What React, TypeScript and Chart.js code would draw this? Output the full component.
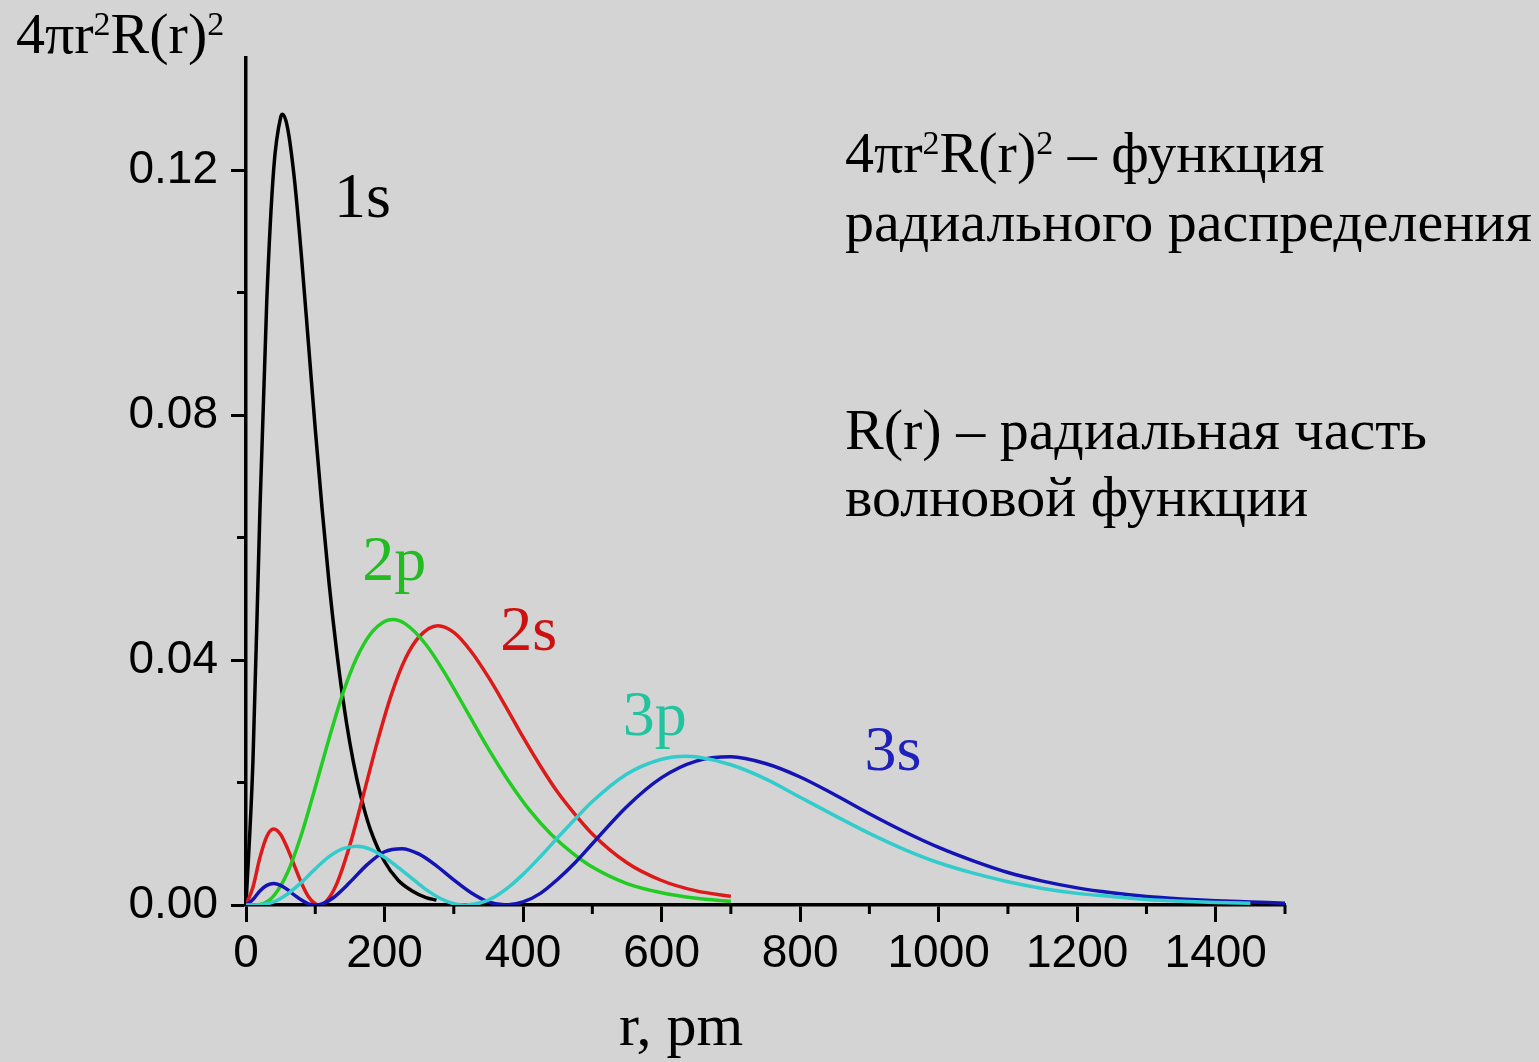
import React, { useEffect, useRef } from "react";
import { Chart, registerables } from "chart.js";

Chart.register(...registerables);

// ---- data (r in pm, values of 4πr²R(r)²) ----
const r1s = [0, 10, 20, 30, 40, 50, 53, 60, 70, 80, 90, 100, 110, 120, 130, 140, 150, 160, 170, 180, 200, 220, 240, 260, 275];
const v1s = [0, 0.0234, 0.064, 0.0987, 0.1202, 0.1286, 0.1291, 0.1269, 0.1184, 0.106, 0.0919, 0.0777, 0.0645, 0.0525, 0.0423, 0.0336, 0.0264, 0.0206, 0.0159, 0.0122, 0.0071, 0.004, 0.0023, 0.0012, 0.0008];

const r2s = [0, 10, 20, 30, 40, 50, 60, 70, 80, 90, 100, 106, 115, 130, 150, 170, 190, 210, 230, 250, 277, 300, 325, 350, 375, 400, 425, 450, 475, 500, 550, 600, 650, 700];
const v2s = [0, 0.0029, 0.0077, 0.0112, 0.0124, 0.0115, 0.0092, 0.0064, 0.0036, 0.0014, 0.0002, 0, 0.0005, 0.0032, 0.0098, 0.0182, 0.0268, 0.0344, 0.0402, 0.0438, 0.0456, 0.0445, 0.0414, 0.0372, 0.0324, 0.0274, 0.0227, 0.0184, 0.0148, 0.0116, 0.0069, 0.004, 0.0023, 0.0014];

const r2p = [0, 20, 40, 60, 80, 100, 120, 140, 160, 180, 200, 212, 230, 260, 290, 320, 350, 380, 410, 440, 470, 500, 550, 600, 650, 700];
const v2p = [0, 0.0001, 0.0015, 0.0053, 0.0115, 0.0192, 0.0272, 0.0346, 0.0404, 0.0443, 0.0463, 0.0466, 0.0459, 0.0425, 0.0373, 0.0314, 0.0255, 0.0201, 0.0154, 0.0116, 0.0086, 0.0062, 0.0035, 0.002, 0.0011, 0.0006];

const r3s = [0, 10, 20, 30, 40, 50, 60, 70, 80, 90, 100, 110, 125, 150, 175, 200, 225, 250, 275, 300, 325, 350, 376, 400, 425, 450, 475, 500, 550, 600, 650, 700, 750, 800, 850, 900, 950, 1000, 1050, 1100, 1150, 1200, 1250, 1300, 1350, 1400, 1450, 1500];
const v3s = [0, 0.0009, 0.0023, 0.0032, 0.0035, 0.0032, 0.0025, 0.0016, 0.0008, 0.0002, 0, 0.0002, 0.0011, 0.0037, 0.0066, 0.0087, 0.0092, 0.0083, 0.0064, 0.0041, 0.002, 0.0005, 0, 0.0005, 0.0019, 0.0042, 0.0069, 0.01, 0.0161, 0.0208, 0.0235, 0.0242, 0.0231, 0.0209, 0.018, 0.0149, 0.012, 0.0094, 0.0072, 0.0053, 0.0039, 0.0028, 0.002, 0.0014, 0.001, 0.0007, 0.0005, 0.0003];

const r3p = [0, 20, 40, 60, 80, 100, 120, 140, 160, 180, 200, 220, 240, 260, 280, 300, 317, 340, 360, 380, 400, 425, 450, 475, 500, 550, 600, 635, 650, 700, 750, 800, 850, 900, 950, 1000, 1050, 1100, 1150, 1200, 1250, 1300, 1350, 1400, 1450];
const v3p = [0, 0.00005, 0.0005, 0.0018, 0.0037, 0.0059, 0.0079, 0.0092, 0.0096, 0.0091, 0.0078, 0.0061, 0.0043, 0.0025, 0.0011, 0.0002, 0, 0.0004, 0.0014, 0.003, 0.005, 0.0079, 0.011, 0.014, 0.0169, 0.0214, 0.0238, 0.0243, 0.0242, 0.0229, 0.0206, 0.0176, 0.0146, 0.0117, 0.0091, 0.0069, 0.0052, 0.0038, 0.0027, 0.0019, 0.0014, 0.0009, 0.0006, 0.0004, 0.0003];

const xMajorTicks = [0, 200, 400, 600, 800, 1000, 1200, 1400];
const xMinorTicks = [100, 300, 500, 700, 900, 1100, 1300, 1500];
const yMajorTicks = [0, 0.04, 0.08, 0.12];
const yMinorTicks = [0.02, 0.06, 0.1];

const xTitle = "r, pm";
const noteLine2 = "радиального распределения";
const noteLine3 = "R(r) – радиальная часть";
const noteLine4 = "волновой функции";

// ---- styling / layout ----
const W = 1539;
const H = 1062;
const BG = "#d4d4d4";
const SANS = '"Liberation Sans", Arial, sans-serif';
const SERIF = '"Liberation Serif", "Times New Roman", serif';

const curveLabels = [
  { text: "1s", r: 127, v: 0.1123, color: "#000000" },
  { text: "2p", r: 168, v: 0.0531, color: "#22bb22" },
  { text: "2s", r: 367, v: 0.0416, color: "#cc1111" },
  { text: "3p", r: 544, v: 0.0278, color: "#22c4a0" },
  { text: "3s", r: 893, v: 0.022, color: "#2020bb" },
];

function pts(xs: number[], ys: number[]) {
  return xs.map((x, i) => ({ x, y: ys[i] }));
}

function drawRich(ctx: CanvasRenderingContext2D, x: number, y: number, parts: [string, number, number][]) {
  let cx = x;
  for (const [t, size, rise] of parts) {
    ctx.font = `${size}px ${SERIF}`;
    ctx.fillText(t, cx, y - rise);
    cx += ctx.measureText(t).width;
  }
}

const decor = {
  id: "decor",
  beforeDraw(chart: any) {
    const ctx = chart.ctx;
    ctx.save();
    ctx.fillStyle = BG;
    ctx.fillRect(0, 0, chart.width, chart.height);
    ctx.restore();
  },
  afterDraw(chart: any) {
    const ctx: CanvasRenderingContext2D = chart.ctx;
    const xs = chart.scales.x;
    const ys = chart.scales.y;
    const area = chart.chartArea;
    ctx.save();
    ctx.strokeStyle = "#000";
    ctx.lineWidth = 3;
    ctx.beginPath();
    for (const v of xMinorTicks) {
      const px = xs.getPixelForValue(v);
      ctx.moveTo(px, area.bottom);
      ctx.lineTo(px, area.bottom + 9);
    }
    for (const v of yMinorTicks) {
      const py = ys.getPixelForValue(v);
      ctx.moveTo(area.left - 9, py);
      ctx.lineTo(area.left, py);
    }
    ctx.stroke();

    ctx.textBaseline = "alphabetic";
    ctx.textAlign = "left";
    // curve labels
    for (const l of curveLabels) {
      ctx.fillStyle = l.color;
      ctx.font = `64px ${SERIF}`;
      ctx.fillText(l.text, xs.getPixelForValue(l.r), ys.getPixelForValue(l.v));
    }
    // y title
    ctx.fillStyle = "#000";
    drawRich(ctx, 16, 53, [["4πr", 58, 0], ["2", 34, 18], ["R(r)", 58, 0], ["2", 34, 18]]);
    // x title
    ctx.font = `60px ${SERIF}`;
    ctx.textAlign = "center";
    ctx.fillText(xTitle, 681, 1045);
    ctx.textAlign = "left";
    // notes
    drawRich(ctx, 845, 172, [["4πr", 58, 0], ["2", 34, 18], ["R(r)", 58, 0], ["2", 34, 18], [" – функция", 58, 0]]);
    ctx.font = `58px ${SERIF}`;
    ctx.fillText(noteLine2, 845, 241);
    ctx.fillText(noteLine3, 845, 449);
    ctx.fillText(noteLine4, 845, 516);
    ctx.restore();
  },
};

export default function App() {
  const ref = useRef<HTMLCanvasElement | null>(null);
  useEffect(() => {
    document.body.style.margin = "0";
    document.body.style.background = BG;
    const canvas = ref.current!;
    const lineDs = (label: string, xs: number[], ys: number[], color: string) => ({
      label,
      data: pts(xs, ys),
      borderColor: color,
      borderWidth: 3.5,
      pointRadius: 0,
      fill: false,
      cubicInterpolationMode: "monotone" as const,
    });
    const chart = new Chart(canvas, {
      type: "line",
      data: {
        datasets: [
          lineDs("3p", r3p, v3p, "#33cccc"),
          lineDs("3s", r3s, v3s, "#1414b4"),
          lineDs("2p", r2p, v2p, "#22cc22"),
          lineDs("2s", r2s, v2s, "#dd1a1a"),
          lineDs("1s", r1s, v1s, "#000000"),
        ],
      },
      options: {
        responsive: false,
        animation: false,
        layout: { padding: { left: 0, right: 254, top: 58, bottom: 0 } },
        plugins: { legend: { display: false }, tooltip: { enabled: false } },
        scales: {
          x: {
            type: "linear",
            min: 0,
            max: 1500,
            afterBuildTicks: (s: any) => {
              s.ticks = xMajorTicks.map((v) => ({ value: v }));
            },
            afterFit: (s: any) => {
              s.height = H - 905;
            },
            ticks: {
              color: "#000",
              font: { family: SANS, size: 46 },
              padding: 5,
              maxRotation: 0,
              autoSkip: false,
              callback: (v: any) => String(v),
            },
            grid: { drawOnChartArea: false, drawTicks: true, tickLength: 17, tickColor: "#000", tickWidth: 3 },
            border: { color: "#000", width: 3.5 },
          },
          y: {
            type: "linear",
            min: 0,
            max: 0.1383,
            afterBuildTicks: (s: any) => {
              s.ticks = yMajorTicks.map((v) => ({ value: v }));
            },
            afterFit: (s: any) => {
              s.width = 246;
            },
            ticks: {
              color: "#000",
              font: { family: SANS, size: 46 },
              padding: 13,
              autoSkip: false,
              callback: (v: any) => Number(v).toFixed(2),
            },
            grid: { drawOnChartArea: false, drawTicks: true, tickLength: 15, tickColor: "#000", tickWidth: 3 },
            border: { color: "#000", width: 3.5 },
          },
        },
      },
      plugins: [decor],
    });
    return () => chart.destroy();
  }, []);
  return <canvas ref={ref} width={W} height={H} style={{ display: "block", width: W, height: H }} />;
}
